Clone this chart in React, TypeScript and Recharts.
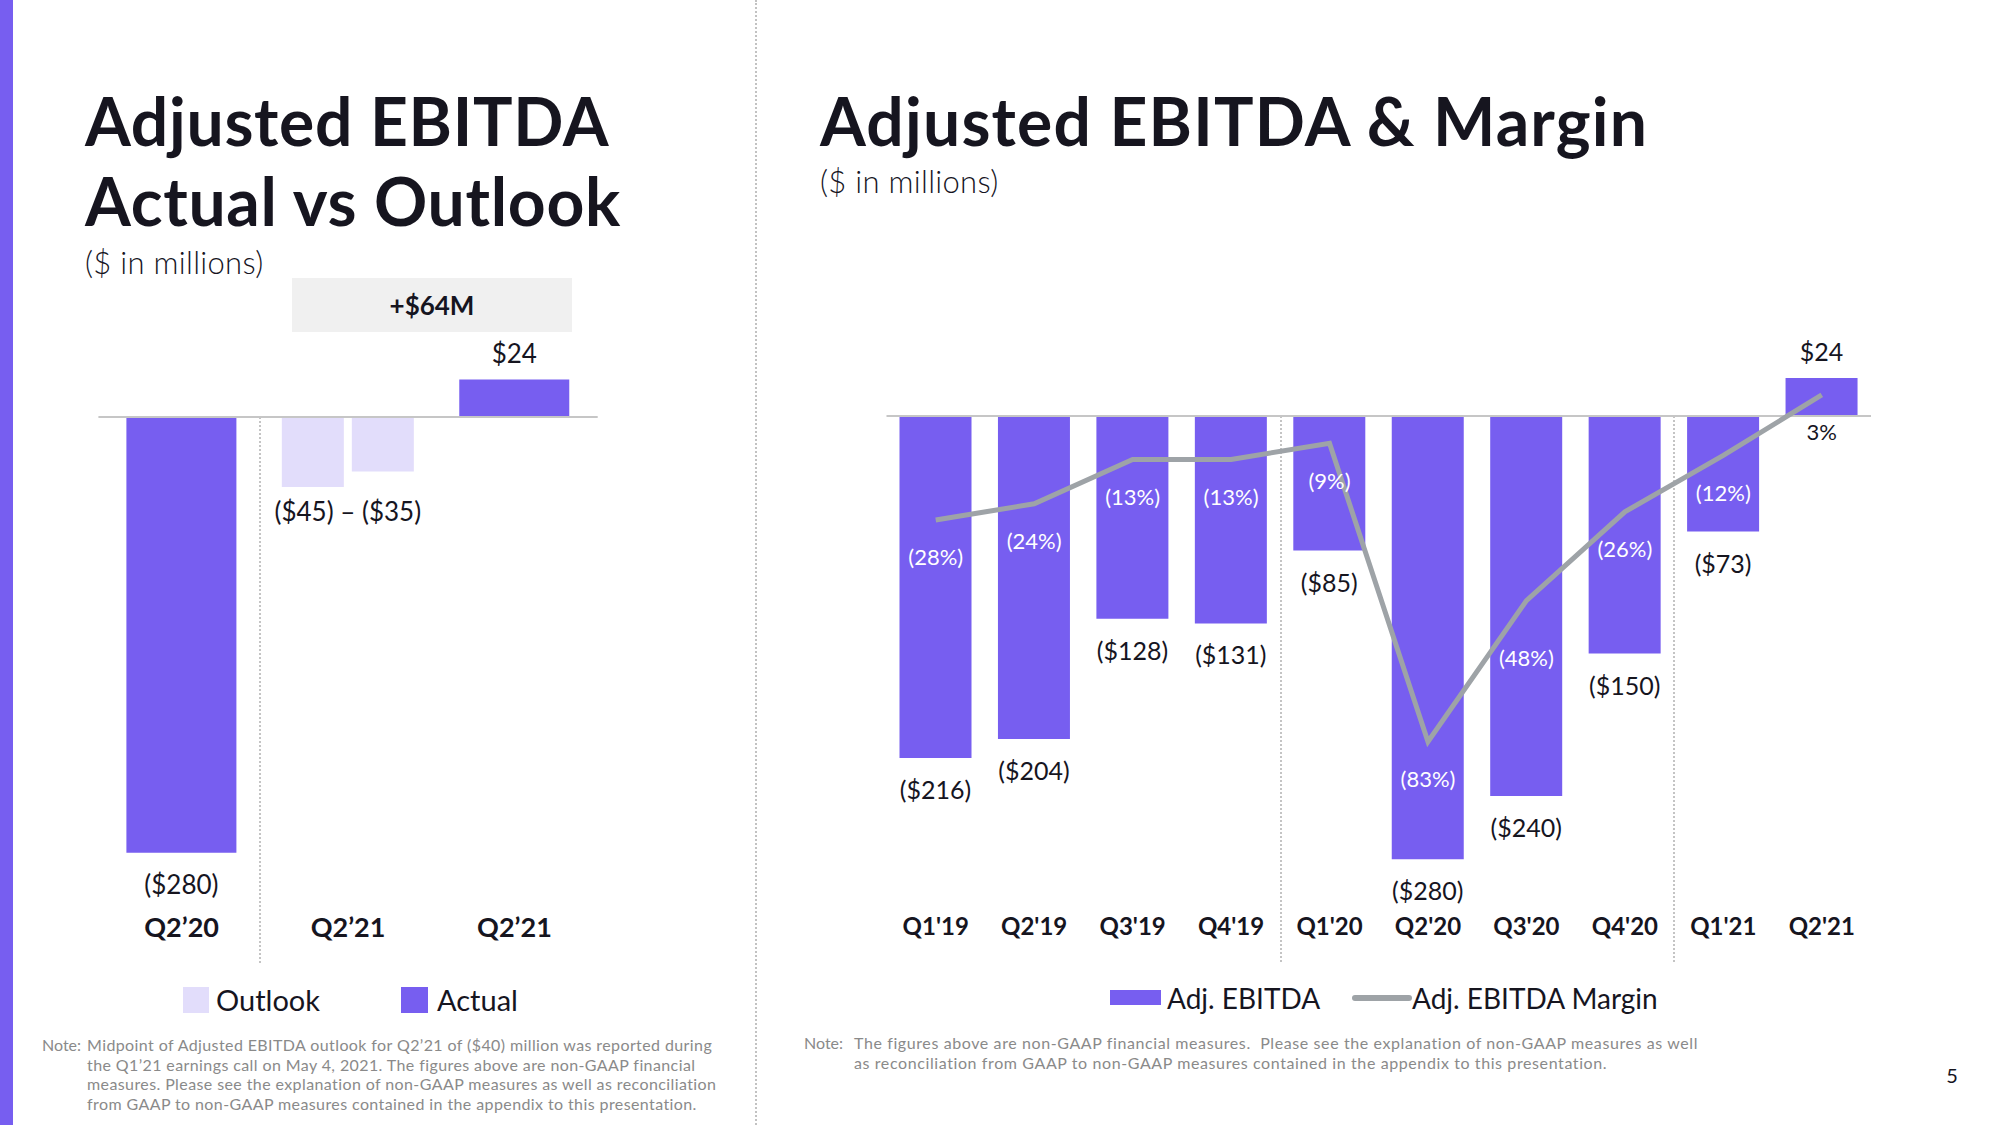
import { BarChart, Bar, ComposedChart, Line, XAxis, YAxis, ReferenceLine, LabelList } from 'recharts';

const PURPLE = '#775ef0';
const LILAC = '#e2ddfb';
const GREY_LINE = '#9ea3a7';
const INK = '#16151f';
const NOTE = '#8a8a8a';
const ZERO = '#c6c6c6';

// left panel: Q2'21 actual vs outlook
const outlookCats = ['Q2’20', 'Q2’21', 'Q2’21'];
const actualVals: (number | null)[] = [-280, null, 24];
const outlookLow: (number | null)[] = [null, -45, null];
const outlookHigh: (number | null)[] = [null, -35, null];

// right panel: quarterly adj. EBITDA ($M) and margin (%)
const quarters = ["Q1'19", "Q2'19", "Q3'19", "Q4'19", "Q1'20", "Q2'20", "Q3'20", "Q4'20", "Q1'21", "Q2'21"];
const ebitda = [-216, -204, -128, -131, -85, -280, -240, -150, -73, 24];
const margin = [-28, -24, -13, -13, -9, -83, -48, -26, -12, 3];

const fmtUsd = (v: number) => (v < 0 ? `($${Math.abs(v)})` : `$${v}`);
const fmtPct = (v: number) => (v < 0 ? `(${Math.abs(v)}%)` : `${v}%`);

const leftData = outlookCats.map((name, i) => ({
  id: i,
  name,
  actual: actualVals[i],
  low: outlookLow[i],
  high: outlookHigh[i],
}));

const rightData = quarters.map((q, i) => ({ q, ebitda: ebitda[i], margin: margin[i] }));

function moneyLabel(size: number) {
  return (props: any) => {
    const { x, y, width, height, value } = props;
    if (value == null) return null;
    const top = Math.min(y, y + height);
    const bottom = Math.max(y, y + height);
    const cy = value < 0 ? bottom + 31 : top - 27;
    return (
      <text x={x + width / 2} y={cy} textAnchor="middle" dominantBaseline="central" fill={INK} fontSize={size}>
        {fmtUsd(value)}
      </text>
    );
  };
}

function rangeLabel(props: any) {
  const { x, y, width, height, value } = props;
  if (value == null) return null;
  const bottom = Math.max(y, y + height);
  const hi = outlookHigh[outlookLow.indexOf(value)];
  // centre of the pair of outlook bars (8px gap)
  return (
    <text x={x + width + 4} y={bottom + 24} textAnchor="middle" dominantBaseline="central" fill={INK} fontSize={26}>
      {`${fmtUsd(value)} – ${fmtUsd(hi as number)}`}
    </text>
  );
}

function pctLabel(props: any) {
  const { x, y, value, index } = props;
  if (value == null) return null;
  // Q3'20 sits lower so it clears the steep segment
  const dy = index === 6 ? 57 : 37;
  return (
    <text x={x} y={y + dy} textAnchor="middle" dominantBaseline="central" fill={value < 0 ? '#ffffff' : INK} fontSize={22}>
      {fmtPct(value)}
    </text>
  );
}

const abs = (left: number, top: number): React.CSSProperties => ({ position: 'absolute', left, top });

export default function App() {
  return (
    <div
      style={{
        position: 'relative',
        width: 2000,
        height: 1125,
        background: '#fff',
        overflow: 'hidden',
        fontFamily: 'Lato, "Noto Sans", sans-serif',
        color: INK,
      }}
    >
      <style>{'body{margin:0}'}</style>
      <div style={{ ...abs(0, 0), width: 13, height: 1125, background: PURPLE }} />
      <div style={{ ...abs(755, 0), height: 1125, borderLeft: '2px dotted #c2c2c2' }} />

      {/* left panel */}
      <div style={{ ...abs(85, 81), fontSize: 66, fontWeight: 700, lineHeight: '80px', letterSpacing: 0.7 }}>
        Adjusted EBITDA
        <br />
        Actual vs Outlook
      </div>
      <div style={{ ...abs(85, 243), fontSize: 31, fontWeight: 300, lineHeight: '38px', letterSpacing: 0.3 }}>
        ($ in millions)
      </div>

      <div
        style={{
          ...abs(292, 278),
          width: 280,
          height: 54,
          background: '#f0f0f0',
          display: 'flex',
          alignItems: 'center',
          justifyContent: 'center',
          fontSize: 26,
          fontWeight: 700,
        }}
      >
        +$64M
      </div>

      <div style={{ ...abs(259, 417), height: 546, borderLeft: '2px dotted #c4c4c4' }} />

      <div style={abs(70, 300)}>
        <BarChart width={560} height={700} data={leftData} margin={{ top: 54.7, right: 32.3, bottom: 56, left: 28.4 }} barGap={8}>
          <XAxis
            xAxisId="main"
            dataKey="id"
            tickFormatter={(v) => outlookCats[v]}
            axisLine={false}
            tickLine={false}
            tickSize={0}
            tickMargin={34}
            height={60}
            interval={0}
            tick={{ fill: INK, fontSize: 27, fontWeight: 700 }}
          />
          <XAxis xAxisId="outlook" dataKey="id" hide />
          <YAxis domain={[-300, 40]} hide />
          <ReferenceLine xAxisId="main" y={0} stroke={ZERO} strokeWidth={2} />
          <Bar xAxisId="main" dataKey="actual" barSize={110} fill={PURPLE} isAnimationActive={false}>
            <LabelList dataKey="actual" content={moneyLabel(26)} />
          </Bar>
          <Bar xAxisId="outlook" dataKey="low" barSize={62} fill={LILAC} isAnimationActive={false}>
            <LabelList dataKey="low" content={rangeLabel} />
          </Bar>
          <Bar xAxisId="outlook" dataKey="high" barSize={62} fill={LILAC} isAnimationActive={false} />
        </BarChart>
      </div>

      <div style={{ ...abs(183, 987), width: 26, height: 26, background: LILAC }} />
      <div style={{ ...abs(216, 982), fontSize: 29, lineHeight: '36px' }}>Outlook</div>
      <div style={{ ...abs(401, 987), width: 27, height: 26, background: PURPLE }} />
      <div style={{ ...abs(437, 982), fontSize: 29, lineHeight: '36px' }}>Actual</div>

      <div style={{ ...abs(42, 1035), display: 'flex', fontSize: 16, lineHeight: '19.5px', letterSpacing: 0.4, color: NOTE }}>
        <div style={{ width: 45, letterSpacing: 0 }}>Note:</div>
        <div>
          <div>Midpoint of Adjusted EBITDA outlook for Q2’21 of ($40) million was reported during</div>
          <div>the Q1’21 earnings call on May 4, 2021. The figures above are non-GAAP financial</div>
          <div>measures. Please see the explanation of non-GAAP measures as well as reconciliation</div>
          <div>from GAAP to non-GAAP measures contained in the appendix to this presentation.</div>
        </div>
      </div>

      {/* right panel */}
      <div style={{ ...abs(820, 81), fontSize: 66, fontWeight: 700, lineHeight: '80px', letterSpacing: 1.2 }}>
        Adjusted EBITDA &amp; Margin
      </div>
      <div style={{ ...abs(820, 162), fontSize: 31, fontWeight: 300, lineHeight: '38px', letterSpacing: 0.3 }}>
        ($ in millions)
      </div>

      <div style={{ ...abs(1280, 416), height: 546, borderLeft: '2px dotted #c4c4c4' }} />
      <div style={{ ...abs(1673, 416), height: 546, borderLeft: '2px dotted #c4c4c4' }} />

      <div style={abs(860, 300)}>
        <ComposedChart width={1060} height={680} data={rightData} margin={{ top: 52.7, right: 49, bottom: 29, left: 26.5 }}>
          <XAxis
            dataKey="q"
            axisLine={false}
            tickLine={false}
            tickSize={0}
            tickMargin={27}
            height={60}
            interval={0}
            tick={{ fill: INK, fontSize: 24, fontWeight: 700 }}
          />
          <YAxis yAxisId="usd" domain={[-300, 40]} hide />
          <YAxis yAxisId="pct" orientation="right" domain={[-120, 13.46]} hide />
          <ReferenceLine yAxisId="usd" y={0} stroke={ZERO} strokeWidth={2} />
          <Bar yAxisId="usd" dataKey="ebitda" barSize={72} fill={PURPLE} isAnimationActive={false}>
            <LabelList dataKey="ebitda" content={moneyLabel(25)} />
          </Bar>
          <Line
            yAxisId="pct"
            type="linear"
            dataKey="margin"
            stroke={GREY_LINE}
            strokeWidth={5}
            dot={false}
            activeDot={false}
            isAnimationActive={false}
          >
            <LabelList dataKey="margin" content={pctLabel} />
          </Line>
        </ComposedChart>
      </div>

      <div style={{ ...abs(1110, 990), width: 51, height: 15, background: PURPLE }} />
      <div style={{ ...abs(1167, 981), fontSize: 28, lineHeight: '34px' }}>Adj. EBITDA</div>
      <div style={{ ...abs(1352, 995), width: 60, height: 6, borderRadius: 3, background: GREY_LINE }} />
      <div style={{ ...abs(1412, 981), fontSize: 28, lineHeight: '34px' }}>Adj. EBITDA Margin</div>

      <div style={{ ...abs(804, 1033), display: 'flex', fontSize: 16, lineHeight: '20px', letterSpacing: 0.6, color: NOTE }}>
        <div style={{ width: 50, letterSpacing: 0 }}>Note:</div>
        <div>
          <div>The figures above are non-GAAP financial measures.&nbsp; Please see the explanation of non-GAAP measures as well</div>
          <div>as reconciliation from GAAP to non-GAAP measures contained in the appendix to this presentation.</div>
        </div>
      </div>

      <div style={{ ...abs(1942, 1062), width: 20, textAlign: 'center', fontSize: 20, lineHeight: '26px' }}>5</div>
    </div>
  );
}
